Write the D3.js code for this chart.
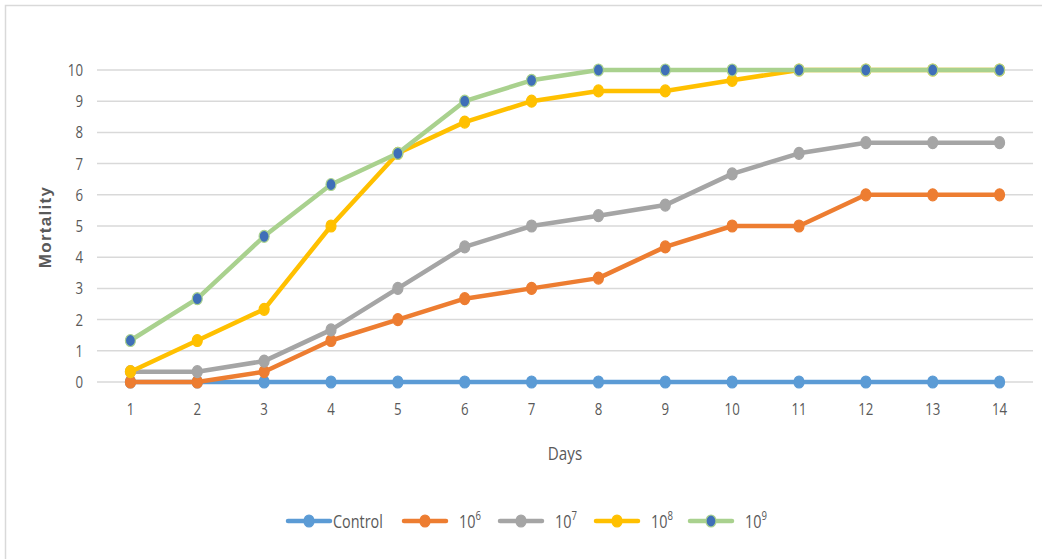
<!DOCTYPE html>
<html><head><meta charset="utf-8">
<script src="https://cdn.jsdelivr.net/npm/d3@7"></script>
<style>body{margin:0;background:#fff;} text{font-family:"Open Sans",sans-serif;fill:#595959;}</style>
</head><body>
<svg id="c" width="1042" height="559"></svg>
<script>
const days = [1,2,3,4,5,6,7,8,9,10,11,12,13,14];
const yTicks = [0,1,2,3,4,5,6,7,8,9,10];
const control = [0,0,0,0,0,0,0,0,0,0,0,0,0,0];
const s1e6 = [0,0,0.33,1.33,2,2.67,3,3.33,4.33,5,5,6,6,6];
const s1e7 = [0.33,0.33,0.67,1.67,3,4.33,5,5.33,5.67,6.67,7.33,7.67,7.67,7.67];
const s1e8 = [0.33,1.33,2.33,5,7.33,8.33,9,9.33,9.33,9.67,10,10,10,10];
const s1e9 = [1.33,2.67,4.67,6.33,7.33,9,9.67,10,10,10,10,10,10,10];

const series = [
  {name:"Control", exp:"", vals:control, color:"#5B9BD5", mfill:"#5B9BD5"},
  {name:"10", exp:"6", vals:s1e6, color:"#ED7D31", mfill:"#ED7D31"},
  {name:"10", exp:"7", vals:s1e7, color:"#A5A5A5", mfill:"#A5A5A5"},
  {name:"10", exp:"8", vals:s1e8, color:"#FFC000", mfill:"#FFC000"},
  {name:"10", exp:"9", vals:s1e9, color:"#A9D18E", mfill:"#3F6FB8"}
];

const svg = d3.select("#c");
svg.append("rect").attr("x",5.5).attr("y",5.5).attr("width",1040).attr("height",560)
  .attr("fill","none").attr("stroke","#d9d9d9").attr("stroke-width",1.5);

const x = d3.scaleBand().domain(days).range([97,1033]);
const y = d3.scaleLinear().domain([0,10]).range([382,70]);
const cx = d => x(d)+x.bandwidth()/2;

svg.append("g").selectAll("line").data(yTicks).join("line")
  .attr("x1",97).attr("x2",1033).attr("y1",d=>y(d)).attr("y2",d=>y(d))
  .attr("stroke","#d9d9d9").attr("stroke-width",1.5);

const ya = svg.append("g").attr("transform","translate(83,0)")
  .call(d3.axisLeft(y).tickValues(yTicks).tickSize(0).tickPadding(0));
ya.select(".domain").remove();
ya.selectAll("text").attr("font-size",17).attr("fill","#595959").attr("x",0)
  .attr("transform","scale(0.78,1)").style("font-family","'Open Sans',sans-serif");

const xa = svg.append("g").attr("transform","translate(0,403)")
  .call(d3.axisBottom(x).tickSize(0).tickPadding(0));
xa.select(".domain").remove();
xa.selectAll("text").attr("font-size",17).attr("fill","#595959")
  .attr("transform","scale(0.78,1)").style("font-family","'Open Sans',sans-serif");

svg.append("text").attr("transform","translate(565,460) scale(0.8,1)").attr("text-anchor","middle")
  .attr("font-size",19).text("Days");
svg.append("text").attr("transform","translate(51,227) rotate(-90)").attr("text-anchor","middle")
  .attr("font-size",17).attr("font-weight","bold").style("font-family","'Liberation Sans',sans-serif")
  .attr("letter-spacing",1.3).text("Mortality");

const line = d3.line().x((d,i)=>cx(days[i])).y(d=>y(d));
series.forEach(s=>{
  const g = svg.append("g");
  g.append("path").attr("d",line(s.vals)).attr("fill","none")
    .attr("stroke",s.color).attr("stroke-width",4.5).attr("stroke-linejoin","round");
  g.selectAll("ellipse").data(s.vals).join("ellipse")
    .attr("cx",(d,i)=>cx(days[i])).attr("cy",d=>y(d)).attr("rx",5).attr("ry",6)
    .attr("fill",s.mfill).attr("stroke",s.color).attr("stroke-width",1.2);
});

const legX = [288,404,500,596,690];
const legend = svg.append("g");
series.forEach((s,i)=>{
  const lx = legX[i], ly = 521;
  legend.append("line").attr("x1",lx).attr("x2",lx+42).attr("y1",ly).attr("y2",ly)
    .attr("stroke",s.color).attr("stroke-width",4.5).attr("stroke-linecap","round");
  legend.append("ellipse").attr("cx",lx+21).attr("cy",ly).attr("rx",5).attr("ry",6)
    .attr("fill",s.mfill).attr("stroke",s.color).attr("stroke-width",1.2);
  const tx = i===0 ? lx+45 : lx+55;
  const t = legend.append("text").attr("transform",`translate(${tx},${ly+7}) scale(0.8,1)`).attr("font-size",18);
  if(i===0){ t.text("Control"); }
  else {
    t.append("tspan").text(s.name);
    t.append("tspan").attr("dy",-8).attr("font-size",12).text(s.exp);
  }
});
</script>
</body></html>
